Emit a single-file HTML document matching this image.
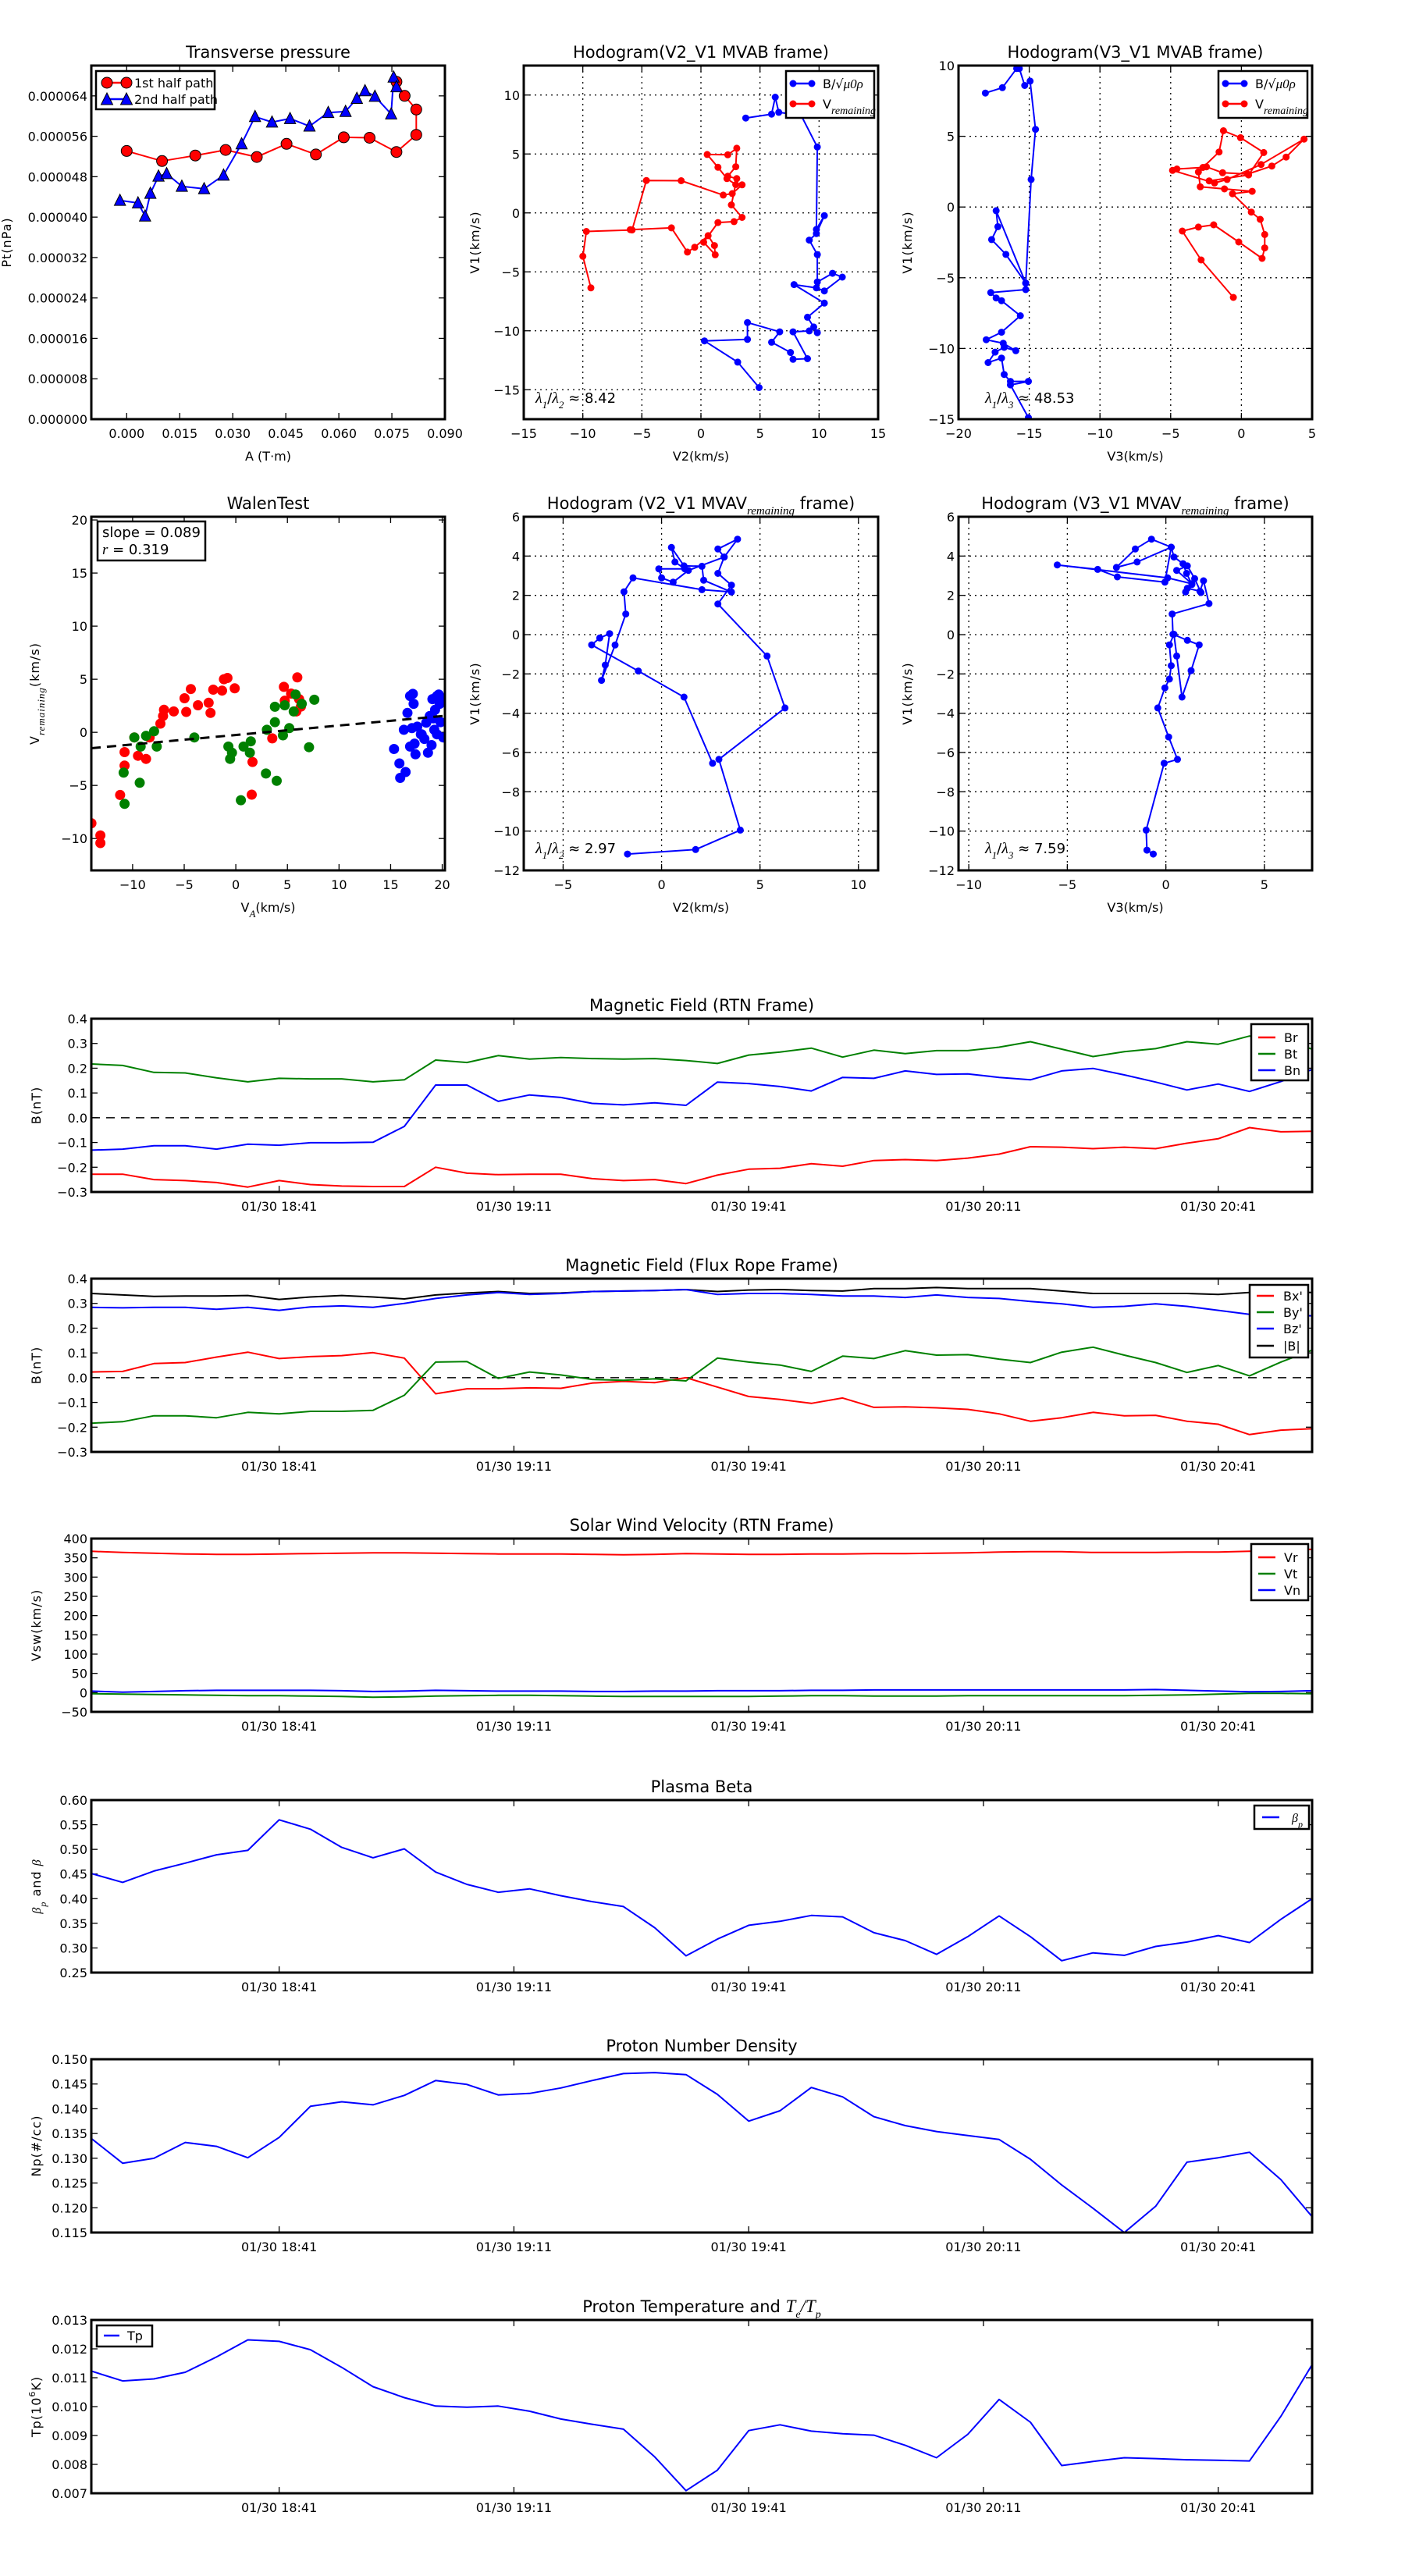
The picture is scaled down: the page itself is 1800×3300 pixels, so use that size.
<!DOCTYPE html>
<html><head><meta charset="utf-8"><title>Flux rope analysis</title>
<style>
html,body{margin:0;padding:0;background:#fff;}
svg{display:block;font-family:"DejaVu Sans","Liberation Sans",sans-serif;}
</style></head>
<body>
<svg id="fig" xmlns="http://www.w3.org/2000/svg" width="1800" height="3300" viewBox="0 0 1800 3300">
<rect x="0" y="0" width="1800" height="3300" fill="#fff"/>
<defs id="defs"></defs>
</svg>
<script>
// ---------- DATA ----------
const tpA1=[0.0,0.010,0.0194,0.028,0.0368,0.0452,0.0535,0.0614,0.0687,0.0763,0.0819,0.0819,0.0786,0.0763];
const tpP1=[5.31e-5,5.11e-5,5.22e-5,5.33e-5,5.19e-5,5.45e-5,5.24e-5,5.58e-5,5.57e-5,5.29e-5,5.63e-5,6.13e-5,6.40e-5,6.68e-5];
const tpA2=[-0.0019,0.0032,0.0052,0.0067,0.009,0.0113,0.0156,0.0219,0.0274,0.0325,0.0363,0.0411,0.0462,0.0517,0.057,0.0619,0.0651,0.0674,0.0702,0.0748,0.0755,0.0763];
const tpP2=[4.33e-5,4.28e-5,4.02e-5,4.47e-5,4.81e-5,4.86e-5,4.61e-5,4.56e-5,4.83e-5,5.45e-5,5.99e-5,5.88e-5,5.95e-5,5.80e-5,6.07e-5,6.09e-5,6.35e-5,6.50e-5,6.39e-5,6.04e-5,6.77e-5,6.58e-5];
const h1BV2=[4.92,3.11,0.30,3.94,3.94,6.67,5.98,7.58,7.80,9.02,7.80,9.17,9.55,9.85,9.02,10.45,7.88,9.77,10.45,11.97,11.14,9.85,9.85,9.17,9.77,10.45,9.77,9.85,8.48,6.59,6.29,5.98,3.79];
const h1BV1=[-14.82,-12.66,-10.86,-10.73,-9.30,-10.09,-10.97,-11.84,-12.42,-12.37,-10.09,-10.01,-9.68,-10.16,-8.85,-7.65,-6.08,-6.36,-6.62,-5.45,-5.12,-5.86,-3.53,-2.31,-1.75,-0.23,-1.40,5.59,8.28,8.53,9.82,8.38,8.05];
const h1VV2=[-9.32,-10.0,-9.70,-5.83,-4.62,-1.67,1.89,2.65,3.48,2.95,2.20,1.44,0.53,2.27,3.03,2.95,2.27,3.03,2.58,3.48,2.80,1.44,0.23,1.21,1.14,0.61,-0.53,-1.14,-2.50,-5.98];
const h1VV1=[-6.36,-3.68,-1.57,-1.45,2.75,2.73,1.51,1.64,2.38,2.40,2.91,3.87,4.96,4.93,5.49,3.92,3.11,2.91,0.68,-0.38,-0.74,-0.82,-2.49,-3.55,-2.77,-1.93,-2.92,-3.32,-1.27,-1.42];
const h2BV3=[-15.06,-16.33,-15.06,-16.33,-16.77,-16.96,-17.91,-17.41,-16.77,-15.95,-16.84,-18.04,-16.96,-15.63,-16.96,-17.34,-17.72,-15.25,-15.25,-16.65,-17.66,-17.22,-17.34,-15.25,-14.87,-14.56,-14.94,-15.32,-15.70,-15.89,-16.9,-18.1];
const h2BV1=[-14.89,-12.58,-12.33,-12.33,-11.84,-10.68,-11.0,-10.26,-9.92,-10.16,-9.63,-9.38,-8.85,-7.69,-6.62,-6.43,-6.05,-5.84,-5.38,-3.35,-2.30,-1.39,-0.26,-5.38,1.95,5.49,8.90,8.59,9.79,9.79,8.44,8.06];
const h2VV3=[-0.57,-2.85,-4.18,-3.04,-1.96,-0.19,1.46,1.65,1.65,1.33,0.70,-0.63,0.76,-1.20,-2.91,-3.04,-2.47,-1.33,0.44,2.15,3.16,4.43,1.39,-1.01,-1.90,-4.87,-4.56,-2.72,-1.58,-1.27,-0.06,1.58,0.51,-2.28];
const h2VV1=[-6.39,-3.74,-1.70,-1.42,-1.26,-2.47,-3.63,-2.89,-1.94,-0.87,-0.36,0.94,1.11,1.28,1.43,2.48,2.84,2.42,2.33,2.90,3.53,4.80,3.01,1.95,1.70,2.59,2.69,2.80,3.89,5.39,4.90,3.85,2.27,1.85];
const wRedX=[-13.99,-13.12,-13.12,-11.21,-10.78,-10.78,-9.83,-9.48,-8.70,-8.35,-7.31,-7.05,-6.96,-6.01,-4.80,-4.97,-4.36,-3.67,-2.63,-2.45,-2.19,-1.33,-1.15,-0.81,-0.11,1.62,1.54,3.53,4.66,4.74,5.35,5.96,6.13,6.31,5.87];
const wRedY=[-8.56,-9.71,-10.43,-5.90,-3.13,-1.86,-0.48,-2.21,-2.50,-0.48,0.82,1.54,2.12,1.97,1.92,3.21,4.08,2.55,2.78,1.83,4.02,3.93,5.0,5.12,4.14,-2.79,-5.87,-0.57,4.28,2.98,3.65,5.17,3.13,2.43,1.97];
const wGreenX=[-10.87,-10.78,-9.83,-9.31,-9.22,-8.70,-7.92,-7.66,-4.02,-0.72,-0.55,-0.37,0.75,1.36,1.45,0.49,2.92,3.96,3.01,3.79,3.79,4.57,4.74,5.18,5.61,5.79,6.39,7.09,7.61];
const wGreenY=[-3.80,-6.74,-0.48,-4.75,-1.34,-0.33,0.10,-1.34,-0.48,-1.34,-2.50,-1.92,-1.34,-1.92,-0.85,-6.39,-3.88,-4.57,0.24,0.96,2.41,-0.28,2.55,0.39,1.97,3.56,2.69,-1.40,3.07];
const wBlueX=[15.33,15.85,15.93,16.45,16.89,17.15,17.23,16.63,16.28,17.06,17.32,17.58,17.93,18.27,18.45,18.79,19.05,19.49,19.66,19.75,19.31,19.14,19.23,18.62,18.97,19.49,19.84,20.10,18.01,16.89,17.41,20.18];
const wBlueY=[-1.57,-2.93,-4.29,-3.74,3.42,3.62,2.69,1.83,0.24,0.39,-1.06,0.53,-0.19,-0.62,0.91,1.54,3.13,3.42,3.56,2.69,2.12,1.31,0.24,-1.92,-1.20,-0.19,0.96,-0.48,-0.19,-1.34,-2.07,2.98];
const walenSlope=0.089;
const walenIntercept=-0.25;
const h3V2=[2.59,1.14,-1.18,-3.55,-3.14,-2.64,-2.86,-3.05,-2.36,-1.82,-1.91,-1.45,2.05,3.55,2.14,2.05,1.14,0.5,0.68,1.18,-0.14,0.0,0.59,1.36,3.18,3.86,2.86,3.18,2.86,3.55,2.86,5.36,6.27,2.91,4.0,1.73,-1.73];
const h3V1=[-6.55,-3.18,-1.85,-0.52,-0.17,0.05,-1.55,-2.33,-0.53,1.05,2.18,2.89,2.29,2.17,2.77,3.48,3.5,4.44,3.70,3.35,3.35,2.89,2.67,3.27,3.95,4.86,4.36,3.95,3.12,2.52,1.56,-1.09,-3.73,-6.35,-9.95,-10.94,-11.17];
const h4V3=[-0.64,-0.96,-1.0,-0.09,0.59,0.14,-0.41,-0.05,0.18,0.27,0.18,0.41,0.55,0.82,1.28,1.69,1.09,0.36,0.32,2.19,1.91,1.73,1.09,1.0,1.32,1.05,0.87,0.41,0.27,-0.73,-1.55,-2.51,-1.46,0.27,-0.05,-2.46,-3.46,-5.51,0.09,1.32,0.55,1.09,1.46,1.78];
const h4V1=[-11.17,-10.97,-9.95,-6.55,-6.35,-5.21,-3.73,-2.71,-2.26,-1.58,-0.52,0.02,-1.09,-3.18,-1.83,-0.52,-0.29,0.02,1.05,1.58,2.74,2.21,2.36,2.17,2.55,3.12,3.61,3.95,4.45,4.86,4.36,3.42,3.70,4.45,2.67,2.94,3.32,3.55,2.89,2.59,3.27,3.5,2.85,2.14];
const times=["18:17","18:21","18:25","18:29","18:33","18:37","18:41","18:45","18:49","18:53","18:57","19:01","19:05","19:09","19:13","19:17","19:21","19:25","19:29","19:33","19:37","19:41","19:45","19:49","19:53","19:57","20:01","20:05","20:09","20:13","20:17","20:21","20:25","20:29","20:33","20:37","20:41","20:45","20:49","20:53"];
const timeTicks=["18:41","19:11","19:41","20:11","20:41"];
const timeTickLabels=["01/30 18:41","01/30 19:11","01/30 19:41","01/30 20:11","01/30 20:41"];
const Br=[-0.228,-0.228,-0.25,-0.254,-0.262,-0.28,-0.254,-0.27,-0.276,-0.278,-0.278,-0.2,-0.224,-0.23,-0.228,-0.228,-0.246,-0.254,-0.25,-0.266,-0.232,-0.208,-0.204,-0.186,-0.196,-0.173,-0.169,-0.173,-0.163,-0.147,-0.117,-0.119,-0.125,-0.119,-0.125,-0.103,-0.085,-0.04,-0.057,-0.055];
const Bt=[0.217,0.211,0.183,0.181,0.161,0.145,0.159,0.157,0.157,0.145,0.153,0.233,0.223,0.251,0.237,0.243,0.239,0.237,0.239,0.231,0.219,0.253,0.265,0.281,0.245,0.273,0.259,0.271,0.271,0.285,0.307,0.277,0.247,0.267,0.279,0.307,0.297,0.33,0.32,0.277];
const Bn=[-0.131,-0.127,-0.113,-0.113,-0.127,-0.107,-0.111,-0.101,-0.101,-0.099,-0.035,0.132,0.132,0.066,0.092,0.082,0.058,0.052,0.06,0.05,0.144,0.138,0.126,0.108,0.163,0.159,0.189,0.175,0.177,0.163,0.153,0.189,0.199,0.173,0.144,0.112,0.136,0.106,0.146,0.195];
const Bx1=[0.023,0.025,0.057,0.061,0.083,0.103,0.077,0.085,0.089,0.101,0.079,-0.065,-0.045,-0.045,-0.041,-0.043,-0.022,-0.015,-0.02,0.0,-0.038,-0.076,-0.088,-0.104,-0.082,-0.12,-0.118,-0.122,-0.128,-0.146,-0.176,-0.162,-0.14,-0.154,-0.152,-0.176,-0.188,-0.23,-0.212,-0.206];
const By1=[-0.184,-0.178,-0.154,-0.154,-0.162,-0.14,-0.146,-0.136,-0.136,-0.132,-0.071,0.063,0.065,-0.003,0.023,0.011,-0.007,-0.011,-0.005,-0.013,0.079,0.063,0.051,0.025,0.087,0.077,0.109,0.091,0.093,0.075,0.061,0.103,0.123,0.091,0.061,0.021,0.049,0.007,0.063,0.111];
const Bz1=[0.284,0.282,0.284,0.284,0.276,0.284,0.272,0.286,0.29,0.284,0.3,0.32,0.334,0.344,0.336,0.34,0.348,0.35,0.352,0.356,0.336,0.34,0.34,0.336,0.33,0.33,0.324,0.334,0.324,0.32,0.308,0.298,0.284,0.288,0.298,0.288,0.272,0.256,0.252,0.25];
const Bmag=[0.34,0.334,0.328,0.33,0.33,0.332,0.316,0.326,0.332,0.326,0.318,0.334,0.342,0.348,0.34,0.342,0.348,0.35,0.352,0.356,0.348,0.354,0.356,0.352,0.35,0.36,0.36,0.364,0.36,0.36,0.36,0.35,0.34,0.34,0.34,0.34,0.336,0.344,0.346,0.344];
const Vr=[367,364,362,360,359,359,360,361,362,363,363,362,361,360,360,360,359,358,359,361,360,359,359,360,360,361,361,362,363,365,366,366,364,364,364,365,365,367,370,372];
const Vt=[-3,-4,-5,-6,-7,-8,-8,-9,-10,-12,-11,-9,-8,-7,-7,-8,-9,-10,-10,-10,-10,-10,-9,-8,-8,-9,-9,-9,-8,-8,-8,-8,-8,-8,-7,-6,-4,-2,-2,-3];
const Vn=[4,1,3,5,6,6,6,6,5,3,4,6,5,4,4,4,3,3,4,4,5,5,5,6,6,7,7,7,7,7,7,7,7,7,8,6,4,2,3,5];
const betaP=[0.451,0.433,0.456,0.472,0.489,0.498,0.56,0.541,0.504,0.483,0.501,0.454,0.429,0.413,0.42,0.406,0.394,0.384,0.341,0.284,0.318,0.346,0.354,0.366,0.363,0.331,0.315,0.287,0.323,0.365,0.323,0.274,0.29,0.285,0.303,0.312,0.325,0.311,0.358,0.4];
const Np=[0.134,0.129,0.130,0.1332,0.1324,0.1301,0.1342,0.1405,0.1414,0.1408,0.1427,0.1457,0.1449,0.1428,0.1431,0.1442,0.1457,0.1471,0.1473,0.1469,0.1429,0.1375,0.1396,0.1443,0.1424,0.1384,0.1366,0.1354,0.1346,0.1338,0.1298,0.1246,0.1199,0.115,0.1203,0.1292,0.1301,0.1312,0.1257,0.1182];
const Tp=[0.01123,0.01089,0.01096,0.01119,0.01172,0.01231,0.01226,0.01197,0.01136,0.01069,0.01031,0.01002,0.00998,0.01002,0.00984,0.00957,0.00939,0.00922,0.00826,0.00709,0.0078,0.00917,0.00937,0.00915,0.00906,0.00901,0.00866,0.00823,0.00904,0.01025,0.00946,0.00796,0.0081,0.00823,0.0082,0.00816,0.00814,0.00812,0.00966,0.01145];

// ---------- HELPERS ----------
const NS='http://www.w3.org/2000/svg';
const svg=document.getElementById('fig');
const defs=document.getElementById('defs');
let cid=0;
function mk(parent,tag,attrs,text){
  const e=document.createElementNS(NS,tag);
  for(const k in attrs){e.setAttribute(k,attrs[k]);}
  if(text!=null){e.textContent=text;}
  parent.appendChild(e);
  return e;
}
function rich(parent,x,y,segs,attrs){
  const t=mk(parent,'text',Object.assign({x:x,y:y},attrs));
  let shift=0;
  segs.forEach(s=>{
    if(typeof s==='string'){
      mk(t,'tspan',{dy:-shift},s);shift=0;
    }else{
      const d=(s.sub?7:(s.sup?-7:0));
      const a={dy:d-shift,'font-family':s.plain?'"DejaVu Sans",sans-serif':'"Liberation Serif",serif','font-style':s.plain?'normal':'italic'};
      if(s.size){a['font-size']=s.size;}
      mk(t,'tspan',a,s.t);shift=d;
    }
  });
  return t;
}
function range(a,b,st){const r=[];for(let v=a;v<=b+st*1e-6;v+=st){r.push(Math.round(v/st)*st);}return r;}
function fmt(v,d){const s=Math.abs(v).toFixed(d);return (v<-1e-12?'\u2212':'')+s;}
function tmin(s){const p=s.split(':');return (+p[0])*60+(+p[1])-(18*60+17);}

function axes(c){
  const g=mk(svg,'g',{});
  
  
  const sx=v=>c.x0+(v-c.xmin)/(c.xmax-c.xmin)*(c.x1-c.x0);
  const sy=v=>c.y1-(v-c.ymin)/(c.ymax-c.ymin)*(c.y1-c.y0);
  const id='clip'+(cid++);
  const cp=mk(defs,'clipPath',{id:id});
  mk(cp,'rect',{x:c.x0,y:c.y0,width:c.x1-c.x0,height:c.y1-c.y0});
  const grid=mk(g,'g',{});
  
  
  const tk=mk(g,'g',{stroke:'#000','stroke-width':1.3});
  
  
  c.xticks.forEach((v,i)=>{
    const x=sx(v);
    if(c.grid){
      const gl=mk(grid,'line',{x1:x,y1:c.y0,x2:x,y2:c.y1,stroke:'#000','stroke-width':1.3,'stroke-dasharray':'2,5'});
      
      
    }
    mk(tk,'line',{x1:x,y1:c.y1,x2:x,y2:c.y1-8});
    mk(tk,'line',{x1:x,y1:c.y0,x2:x,y2:c.y0+8});
    const lb=mk(g,'text',{x:x,y:c.y1+24,'text-anchor':'middle','font-size':16},c.xlabels[i]);
    
    
  });
  c.yticks.forEach((v,i)=>{
    const y=sy(v);
    if(c.grid){
      const gl=mk(grid,'line',{x1:c.x0,y1:y,x2:c.x1,y2:y,stroke:'#000','stroke-width':1.3,'stroke-dasharray':'2,5'});
      
      
    }
    mk(tk,'line',{x1:c.x0,y1:y,x2:c.x0+8,y2:y});
    mk(tk,'line',{x1:c.x1,y1:y,x2:c.x1-8,y2:y});
    const lb=mk(g,'text',{x:c.x0-5,y:y+6,'text-anchor':'end','font-size':16},c.ylabels[i]);
    
    
  });
  const tt=rich(g,(c.x0+c.x1)/2,c.y0-10,c.title,{'text-anchor':'middle','font-size':c.tsize||21});
  
  
  if(c.xlabel){
    const xl=rich(g,(c.x0+c.x1)/2,c.y1+53,c.xlabel,{'text-anchor':'middle','font-size':16});
    
    
  }
  if(c.ylabel){
    const yx=c.ylx, yy=(c.y0+c.y1)/2;
    const yl=rich(g,yx,yy,c.ylabel,{'text-anchor':'middle','font-size':16,transform:`rotate(-90 ${yx} ${yy})`,'letter-spacing':'1'});
    
    
  }
  const plot=mk(g,'g',{'clip-path':`url(#${id})`});
  
  
  return {g:g,plot:plot,sx:sx,sy:sy,c:c,finish:function(){
    const fr=mk(g,'rect',{x:c.x0,y:c.y0,width:c.x1-c.x0,height:c.y1-c.y0,fill:'none',stroke:'#000','stroke-width':3});
    
    
  }};
}
function line(ax,xs,ys,color,w,name,dash){
  const d=xs.map((x,i)=>(i?'L':'M')+ax.sx(x).toFixed(1)+','+ax.sy(ys[i]).toFixed(1)).join('');
  const a={d:d,fill:'none',stroke:color,'stroke-width':w,'stroke-linejoin':'round'};
  if(dash){a['stroke-dasharray']=dash;}
  const p=mk(ax.plot,'path',a);
  
  
  return p;
}
function dots(ax,xs,ys,color,r,name,edge){
  xs.forEach((x,i)=>{
    const e=mk(ax.plot,'circle',{cx:ax.sx(x).toFixed(1),cy:ax.sy(ys[i]).toFixed(1),r:r,fill:color,stroke:edge||'none','stroke-width':1});
    
    
  });
}
function tris(ax,xs,ys,color,s,name){
  xs.forEach((x,i)=>{
    const cx=ax.sx(x), cy=ax.sy(ys[i]);
    const e=mk(ax.plot,'path',{d:`M${cx},${cy-s}L${cx+s*0.9},${cy+s*0.8}L${cx-s*0.9},${cy+s*0.8}Z`,fill:color,stroke:'#000','stroke-width':1});
    
    
  });
}
function legendBox(x0,y0,x1,y1,name){
  const g=mk(svg,'g',{});
  
  
  mk(g,'rect',{x:x0,y:y0,width:x1-x0,height:y1-y0,fill:'#fff',stroke:'#000','stroke-width':2.5});
  return g;
}
function legendLine(g,x,y,len,color,segs,tx,mark){
  const e=mk(g,'g',{});
  
  
  mk(e,'line',{x1:x,y1:y,x2:x+len,y2:y,stroke:color,'stroke-width':2.5});
  if(mark==='o'){mk(e,'circle',{cx:x,cy:y,r:7,fill:color,stroke:'#000'});mk(e,'circle',{cx:x+len,cy:y,r:7,fill:color,stroke:'#000'});}
  if(mark==='.'){mk(e,'circle',{cx:x,cy:y,r:4.5,fill:color});mk(e,'circle',{cx:x+len,cy:y,r:4.5,fill:color});}
  if(mark==='^'){[x,x+len].forEach(cx=>mk(e,'path',{d:`M${cx},${y-8}L${cx+7.5},${y+7}L${cx-7.5},${y+7}Z`,fill:color,stroke:'#000'}));}
  rich(e,tx,y+6,segs,{'font-size':16});
}

// ---------- Transverse pressure ----------
{
  const xt=range(0,0.09,0.015), yt=range(0,0.000064,0.000008);
  const ax=axes({name:'transverse-pressure-chart',x0:117,x1:570,y0:84,y1:537,xmin:-0.01,xmax:0.09,ymin:0,ymax:0.00007,
    xticks:xt,xlabels:xt.map(v=>v.toFixed(3)),yticks:yt,ylabels:yt.map(v=>v.toFixed(6)),
    title:['Transverse pressure'],xlabel:['A (T\u00b7m)'],ylabel:['Pt(nPa)'],ylx:14});
  line(ax,tpA1,tpP1,'#ff0000',2,'first-half-path-line');
  line(ax,tpA2,tpP2,'#0000ff',2,'second-half-path-line');
  dots(ax,tpA1,tpP1,'#ff0000',7,'first-half-point','#000');
  tris(ax,tpA2,tpP2,'#0000ff',8,'second-half-point');
  ax.finish();
  const lg=legendBox(123,91,275,140,'pressure-legend');
  legendLine(lg,137,106,25,'#ff0000',['1st half path'],172,'o');
  legendLine(lg,137,127,25,'#0000ff',['2nd half path'],172,'^');
}
// ---------- Hodogram V2_V1 MVAB ----------
{
  const xt=range(-15,15,5), yt=range(-15,10,5);
  const ax=axes({name:'hodogram-v2-v1-mvab',x0:671,x1:1125,y0:84,y1:537,xmin:-15,xmax:15,ymin:-17.5,ymax:12.5,grid:true,
    xticks:xt,xlabels:xt.map(v=>fmt(v,0)),yticks:yt,ylabels:yt.map(v=>fmt(v,0)),
    title:['Hodogram(V2_V1 MVAB frame)'],xlabel:['V2(km/s)'],ylabel:['V1(km/s)'],ylx:614});
  line(ax,h1BV2,h1BV1,'#0000ff',2,'b-alfven-path');
  dots(ax,h1BV2,h1BV1,'#0000ff',4.5,'b-alfven-point');
  line(ax,h1VV2,h1VV1,'#ff0000',2,'v-remaining-path');
  dots(ax,h1VV2,h1VV1,'#ff0000',4.5,'v-remaining-point');
  ax.finish();
  const an=rich(svg,686,516,[{t:'\u03bb',size:20},{t:'1',sub:true,size:13},'/',{t:'\u03bb',size:20},{t:'2',sub:true,size:13},' \u2248 8.42'],{'font-size':18});
  
  
  const lg=legendBox(1007,91,1120,151,'hodogram-legend');
  legendLine(lg,1016,107,24,'#0000ff',['B/\u221a',{t:'\u03bc0\u03c1',size:17}],1054,'.');
  legendLine(lg,1016,133,24,'#ff0000',['V',{t:'remaining',sub:true,size:14}],1054,'.');
}
// ---------- Hodogram V3_V1 MVAB ----------
{
  const xt=range(-20,5,5), yt=range(-15,10,5);
  const ax=axes({name:'hodogram-v3-v1-mvab',x0:1228,x1:1681,y0:84,y1:537,xmin:-20,xmax:5,ymin:-15,ymax:10,grid:true,
    xticks:xt,xlabels:xt.map(v=>fmt(v,0)),yticks:yt,ylabels:yt.map(v=>fmt(v,0)),
    title:['Hodogram(V3_V1 MVAB frame)'],xlabel:['V3(km/s)'],ylabel:['V1(km/s)'],ylx:1168});
  line(ax,h2BV3,h2BV1,'#0000ff',2,'b-alfven-path');
  dots(ax,h2BV3,h2BV1,'#0000ff',4.5,'b-alfven-point');
  line(ax,h2VV3,h2VV1,'#ff0000',2,'v-remaining-path');
  dots(ax,h2VV3,h2VV1,'#ff0000',4.5,'v-remaining-point');
  ax.finish();
  const an=rich(svg,1262,516,[{t:'\u03bb',size:20},{t:'1',sub:true,size:13},'/',{t:'\u03bb',size:20},{t:'3',sub:true,size:13},' \u2248 48.53'],{'font-size':18});
  
  
  const lg=legendBox(1561,91,1675,151,'hodogram-legend');
  legendLine(lg,1570,107,24,'#0000ff',['B/\u221a',{t:'\u03bc0\u03c1',size:17}],1608,'.');
  legendLine(lg,1570,133,24,'#ff0000',['V',{t:'remaining',sub:true,size:14}],1608,'.');
}
// ---------- Walen test ----------
{
  const xt=range(-10,20,5), yt=range(-10,20,5);
  const ax=axes({name:'walen-test-chart',x0:117,x1:570,y0:662,y1:1115,xmin:-14,xmax:20.26,ymin:-13,ymax:20.3,
    xticks:xt,xlabels:xt.map(v=>fmt(v,0)),yticks:yt,ylabels:yt.map(v=>fmt(v,0)),
    title:['WalenTest'],xlabel:['V',{t:'A',sub:true,size:13},'(km/s)'],ylabel:['V',{t:'remaining',sub:true,size:13},'(km/s)'],ylx:50});
  dots(ax,wRedX,wRedY,'#ff0000',6.5,'walen-point-red');
  dots(ax,wGreenX,wGreenY,'#008000',6.5,'walen-point-green');
  dots(ax,wBlueX,wBlueY,'#0000ff',6.5,'walen-point-blue');
  const fx=[ax.c.xmin,ax.c.xmax];
  line(ax,fx,fx.map(v=>walenIntercept+walenSlope*v),'#000',3,'walen-fit-line','12,8');
  ax.finish();
  const g=legendBox(125,668,263,718,'walen-stats-box');
  const t1=mk(g,'text',{x:131,y:688,'font-size':18},'slope = 0.089');
  
  
  const t2=rich(g,131,710,[{t:'r',size:19},' = 0.319'],{'font-size':18});
  
  
}
// ---------- Hodogram V2_V1 MVAV ----------
{
  const xt=range(-5,10,5), yt=range(-12,6,2);
  const ax=axes({name:'hodogram-v2-v1-mvav',x0:671,x1:1125,y0:662,y1:1115,xmin:-7,xmax:11,ymin:-12,ymax:6,grid:true,
    xticks:xt,xlabels:xt.map(v=>fmt(v,0)),yticks:yt,ylabels:yt.map(v=>fmt(v,0)),
    title:['Hodogram (V2_V1 MVAV',{t:'remaining',sub:true,size:15},' frame)'],xlabel:['V2(km/s)'],ylabel:['V1(km/s)'],ylx:614});
  line(ax,h3V2,h3V1,'#0000ff',2,'velocity-path');
  dots(ax,h3V2,h3V1,'#0000ff',4.5,'velocity-point');
  ax.finish();
  const an=rich(svg,686,1093,[{t:'\u03bb',size:20},{t:'1',sub:true,size:13},'/',{t:'\u03bb',size:20},{t:'2',sub:true,size:13},' \u2248 2.97'],{'font-size':18});
  
  
}
// ---------- Hodogram V3_V1 MVAV ----------
{
  const xt=range(-10,5,5), yt=range(-12,6,2);
  const ax=axes({name:'hodogram-v3-v1-mvav',x0:1228,x1:1681,y0:662,y1:1115,xmin:-10.52,xmax:7.42,ymin:-12,ymax:6,grid:true,
    xticks:xt,xlabels:xt.map(v=>fmt(v,0)),yticks:yt,ylabels:yt.map(v=>fmt(v,0)),
    title:['Hodogram (V3_V1 MVAV',{t:'remaining',sub:true,size:15},' frame)'],xlabel:['V3(km/s)'],ylabel:['V1(km/s)'],ylx:1168});
  line(ax,h4V3,h4V1,'#0000ff',2,'velocity-path');
  dots(ax,h4V3,h4V1,'#0000ff',4.5,'velocity-point');
  ax.finish();
  const an=rich(svg,1262,1093,[{t:'\u03bb',size:20},{t:'1',sub:true,size:13},'/',{t:'\u03bb',size:20},{t:'3',sub:true,size:13},' \u2248 7.59'],{'font-size':18});
  
  
}
// ---------- Time series ----------
const tX=times.map(tmin);
function tsAxes(name,y0,y1,ymin,ymax,step,dec,title,ylabel){
  const yt=range(ymin,ymax,step);
  return axes({name:name,x0:117,x1:1681,y0:y0,y1:y1,xmin:0,xmax:156,ymin:ymin,ymax:ymax,
    xticks:timeTicks.map(tmin),xlabels:timeTickLabels,yticks:yt,ylabels:yt.map(v=>fmt(v,dec)),
    title:title,ylabel:ylabel,ylx:52});
}
{
  const ax=tsAxes('magnetic-field-rtn-chart',1305,1527,-0.3,0.4,0.1,1,['Magnetic Field (RTN Frame)'],['B(nT)']);
  line(ax,[0,156],[0,0],'#000',1.5,'zero-line','11,8');
  line(ax,tX,Br,'#ff0000',2,'br-line');
  line(ax,tX,Bt,'#008000',2,'bt-line');
  line(ax,tX,Bn,'#0000ff',2,'bn-line');
  ax.finish();
  const lg=legendBox(1603,1312,1676,1384,'rtn-legend');
  legendLine(lg,1612,1329,22,'#ff0000',['Br'],1645);
  legendLine(lg,1612,1350,22,'#008000',['Bt'],1645);
  legendLine(lg,1612,1371,22,'#0000ff',['Bn'],1645);
}
{
  const ax=tsAxes('magnetic-field-flux-rope-chart',1638,1860,-0.3,0.4,0.1,1,['Magnetic Field (Flux Rope Frame)'],['B(nT)']);
  line(ax,[0,156],[0,0],'#000',1.5,'zero-line','11,8');
  line(ax,tX,Bmag,'#000000',2,'bmag-line');
  line(ax,tX,Bz1,'#0000ff',2,'bz-line');
  line(ax,tX,Bx1,'#ff0000',2,'bx-line');
  line(ax,tX,By1,'#008000',2,'by-line');
  ax.finish();
  const lg=legendBox(1601,1646,1676,1739,'flux-rope-legend');
  legendLine(lg,1610,1660,22,'#ff0000',["Bx'"],1644);
  legendLine(lg,1610,1681,22,'#008000',["By'"],1644);
  legendLine(lg,1610,1702,22,'#0000ff',["Bz'"],1644);
  legendLine(lg,1610,1724,22,'#000000',['|B|'],1644);
}
{
  const ax=tsAxes('solar-wind-velocity-chart',1971,2193,-50,400,50,0,['Solar Wind Velocity (RTN Frame)'],['Vsw(km/s)']);
  line(ax,tX,Vr,'#ff0000',2,'vr-line');
  line(ax,tX,Vt,'#008000',2,'vt-line');
  line(ax,tX,Vn,'#0000ff',2,'vn-line');
  ax.finish();
  const lg=legendBox(1603,1978,1676,2050,'velocity-legend');
  legendLine(lg,1612,1995,22,'#ff0000',['Vr'],1645);
  legendLine(lg,1612,2016,22,'#008000',['Vt'],1645);
  legendLine(lg,1612,2037,22,'#0000ff',['Vn'],1645);
}
{
  const ax=tsAxes('plasma-beta-chart',2306,2527,0.25,0.60,0.05,2,['Plasma Beta'],[{t:'\u03b2',size:16},{t:'p',sub:true,size:12},' and ',{t:'\u03b2',size:16}]);
  line(ax,tX,betaP,'#0000ff',2,'beta-p-line');
  ax.finish();
  const lg=legendBox(1607,2313,1677,2343,'beta-legend');
  legendLine(lg,1617,2328,22,'#0000ff',[{t:'\u03b2',size:16},{t:'p',sub:true,size:12}],1655);
}
{
  const ax=tsAxes('proton-density-chart',2638,2860,0.115,0.150,0.005,3,['Proton Number Density'],['Np(#/cc)']);
  line(ax,tX,Np,'#0000ff',2,'density-line');
  ax.finish();
}
{
  const ax=tsAxes('proton-temperature-chart',2972,3194,0.007,0.013,0.001,3,['Proton Temperature and ',{t:'T',size:23},{t:'e',sub:true,size:14},{t:'/T',size:23},{t:'p',sub:true,size:14}],['Tp(10',{t:'6',sup:true,plain:true,size:11},'K)']);
  line(ax,tX,Tp,'#0000ff',2,'temperature-line');
  ax.finish();
  const lg=legendBox(124,2979,195,3006,'temperature-legend');
  legendLine(lg,133,2992,20,'#0000ff',['Tp'],163);
}
</script>
</body></html>
